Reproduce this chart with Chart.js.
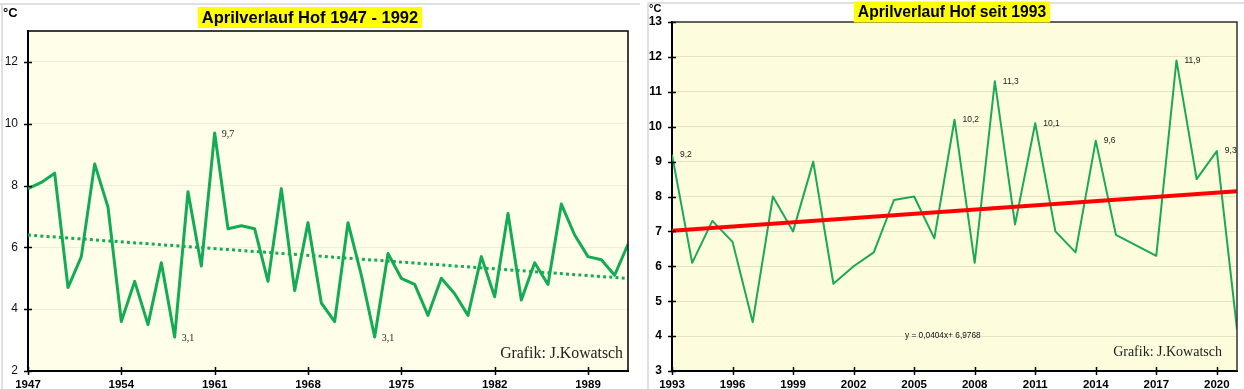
<!DOCTYPE html>
<html><head><meta charset="utf-8">
<script src="https://cdn.jsdelivr.net/npm/chart.js@4/dist/chart.umd.min.js"></script>
<style>
html,body{margin:0;padding:0;background:#fff;width:1244px;height:389px;overflow:hidden}
#c1{position:absolute;left:0;top:0}
#c2{position:absolute;left:640px;top:0}
</style></head><body>
<canvas id="c1" width="640" height="389"></canvas>
<canvas id="c2" width="604" height="389"></canvas>
<script>
// ---------- DATA ----------
const yearsLeft = [1947,1948,1949,1950,1951,1952,1953,1954,1955,1956,1957,1958,1959,1960,1961,1962,1963,1964,1965,1966,1967,1968,1969,1970,1971,1972,1973,1974,1975,1976,1977,1978,1979,1980,1981,1982,1983,1984,1985,1986,1987,1988,1989,1990,1991,1992];
const tempsLeft = [7.9,8.1,8.4,4.7,5.7,8.7,7.3,3.6,4.9,3.5,5.5,3.1,7.8,5.4,9.7,6.6,6.7,6.6,4.9,7.9,4.6,6.8,4.2,3.6,6.8,5.1,3.1,5.8,5.0,4.8,3.8,5.0,4.5,3.8,5.7,4.4,7.1,4.3,5.5,4.8,7.4,6.4,5.7,5.6,5.1,6.1];
const labeledLeft = [1958,1961,1973];
const xTicksLeft = [1947,1954,1961,1968,1975,1982,1989];
const yTicksLeft = [2,4,6,8,10,12];

const yearsRight = [1993,1994,1995,1996,1997,1998,1999,2000,2001,2002,2003,2004,2005,2006,2007,2008,2009,2010,2011,2012,2013,2014,2015,2016,2017,2018,2019,2020,2021];
const tempsRight = [9.2,6.1,7.3,6.7,4.4,8.0,7.0,9.0,5.5,6.0,6.4,7.9,8.0,6.8,10.2,6.1,11.3,7.2,10.1,7.0,6.4,9.6,6.9,6.6,6.3,11.9,8.5,9.3,4.2];
const labeledRight = [1993,2007,2009,2011,2014,2018,2020];
const xTicksRight = [1993,1996,1999,2002,2005,2008,2011,2014,2017,2020];
const yTicksRight = [3,4,5,6,7,8,9,10,11,12,13];
const trendRightSlope = 0.0404;
const trendRightIntercept = 6.9768;

// ---------- helpers ----------
function linReg(ys){
  const n=ys.length; let sx=0,sy=0,sxx=0,sxy=0;
  ys.forEach((y,i)=>{const x=i+1;sx+=x;sy+=y;sxx+=x*x;sxy+=x*y;});
  const m=(n*sxy-sx*sy)/(n*sxx-sx*sx); return {m, b:(sy-m*sx)/n};
}
const regL = linReg(tempsLeft);
const trendLeft = [{x:yearsLeft[0], y:regL.b+regL.m*1},{x:yearsLeft[yearsLeft.length-1], y:regL.b+regL.m*yearsLeft.length}];
const trendRight = [{x:yearsRight[0], y:trendRightIntercept+trendRightSlope*1},{x:yearsRight[yearsRight.length-1], y:trendRightIntercept+trendRightSlope*yearsRight.length}];
const fmt = v => v.toFixed(1).replace('.',',');

const decor = {
  id:'decor',
  beforeDraw(chart,args,o){
    const {ctx,chartArea:a}=chart;
    ctx.save();
    ctx.fillStyle=o.plotBg; ctx.fillRect(a.left,a.top,a.right-a.left,a.bottom-a.top);
    ctx.strokeStyle='#d6d6d6'; ctx.lineWidth=1.5;
    o.frame.forEach(([x1,y1,x2,y2])=>{ctx.beginPath();ctx.moveTo(x1,y1);ctx.lineTo(x2,y2);ctx.stroke();});
    ctx.restore();
  },
  afterDraw(chart,args,o){
    const {ctx,chartArea:a,scales:{x,y}}=chart;
    ctx.save();
    ctx.strokeStyle=o.rightColor; ctx.lineWidth=1.5;
    ctx.beginPath(); ctx.moveTo(a.left,a.top); ctx.lineTo(a.right,a.top); ctx.lineTo(a.right,a.bottom); ctx.stroke();
    ctx.strokeStyle='#000'; ctx.lineWidth=1.5;
    y.ticks.forEach(t=>{const py=Math.round(y.getPixelForValue(t.value))+0.5; ctx.beginPath(); ctx.moveTo(a.left-4,py); ctx.lineTo(a.left+4,py); ctx.stroke();});
    x.ticks.forEach(t=>{const px=Math.round(x.getPixelForValue(t.value))+0.5; ctx.beginPath(); ctx.moveTo(px,a.bottom-4); ctx.lineTo(px,a.bottom+4); ctx.stroke();});
    ctx.font=o.titleFont; ctx.textBaseline='middle'; ctx.textAlign='center';
    const tw=ctx.measureText(o.title).width;
    ctx.fillStyle='#ffff00'; ctx.fillRect(o.titleX-tw/2-4,o.titleY-10.5,tw+8,21);
    ctx.fillStyle='#000'; ctx.fillText(o.title,o.titleX,o.titleY+0.5);
    ctx.font=o.unitFont; ctx.textAlign='left'; ctx.textBaseline='alphabetic';
    ctx.fillText('°C',o.unitX,o.unitY);
    ctx.font=o.creditFont; ctx.textAlign='right';
    ctx.fillStyle='#222'; ctx.fillText('Grafik: J.Kowatsch',o.creditX,o.creditY);
    if(o.equation){ctx.font=o.eqFont; ctx.textAlign='left'; ctx.fillStyle='#111'; ctx.fillText(o.equation,o.eqX,o.eqY);}
    const ds=chart.data.datasets[o.mainIndex].data;
    ctx.font=o.labelFont; ctx.fillStyle='#222'; ctx.textAlign='left'; ctx.textBaseline='middle';
    o.labeled.forEach(yr=>{const p=ds.find(d=>d.x===yr); if(!p)return;
      const px=x.getPixelForValue(p.x), py=y.getPixelForValue(p.y);
      ctx.fillText(fmt(p.y),px+o.labelDX,py+o.labelDY);});
    ctx.restore();
  }
};

function axisW(w){return function(s){s.width=w;};}
function axisH(h){return function(s){s.height=h;};}

// ---------- LEFT CHART ----------
new Chart(document.getElementById('c1'),{
  type:'line',
  data:{datasets:[
    {data:trendLeft, borderColor:'#14ab55', borderWidth:3, borderDash:[3,3.2], borderCapStyle:'butt', pointRadius:0, fill:false},
    {data:yearsLeft.map((yr,i)=>({x:yr,y:tempsLeft[i]})), borderColor:'#14ab55', borderWidth:3, pointRadius:0, tension:0, fill:false, borderJoinStyle:'round'}
  ]},
  options:{
    responsive:false, devicePixelRatio:1, animation:false, events:[],
    layout:{padding:{top:31,right:12,left:0,bottom:0}},
    plugins:{legend:{display:false},tooltip:{enabled:false},
      decor:{plotBg:'#fefee9', frame:[[0,4,640,4],[2,4,2,389]], rightColor:'#000',
        title:'Aprilverlauf Hof 1947 - 1992', titleFont:'bold 16.5px "Liberation Sans", Arial, sans-serif', titleX:310, titleY:17.5,
        unitFont:'bold 13px "Liberation Sans", Arial, sans-serif', unitX:3, unitY:17,
        creditFont:'15.8px "Liberation Serif", "Times New Roman", serif', creditX:623, creditY:358,
        labelFont:'10px "Liberation Serif", serif', labelDX:7, labelDY:1, labeled:labeledLeft, mainIndex:1}},
    scales:{
      x:{type:'linear', min:yearsLeft[0], max:yearsLeft[yearsLeft.length-1],
        afterBuildTicks:s=>{s.ticks=xTicksLeft.map(v=>({value:v}));}, afterFit:axisH(18),
        grid:{display:false, drawTicks:false}, border:{color:'#000',width:2},
        ticks:{padding:7, color:'#000', font:{family:'"Liberation Sans", Arial, sans-serif', size:11.5, weight:'bold'}, maxRotation:0, autoSkip:false, callback:v=>String(v)}},
      y:{type:'linear', min:2, max:13,
        afterBuildTicks:s=>{s.ticks=yTicksLeft.map(v=>({value:v}));}, afterFit:axisW(28),
        grid:{color:'#ededd8', lineWidth:1, drawTicks:false}, border:{color:'#000',width:2},
        ticks:{padding:10, color:'#111', font:{family:'"Liberation Sans", Arial, sans-serif', size:12}, callback:v=>String(v)}}
    }
  },
  plugins:[decor]
});

// ---------- RIGHT CHART ----------
new Chart(document.getElementById('c2'),{
  type:'line',
  data:{datasets:[
    {data:trendRight, borderColor:'#ff0000', borderWidth:4, pointRadius:0, fill:false},
    {data:yearsRight.map((yr,i)=>({x:yr,y:tempsRight[i]})), borderColor:'#1aa85a', borderWidth:2, pointRadius:0, tension:0, fill:false, borderJoinStyle:'round'}
  ]},
  options:{
    responsive:false, devicePixelRatio:1, animation:false, events:[],
    layout:{padding:{top:22,right:7,left:0,bottom:0}},
    plugins:{legend:{display:false},tooltip:{enabled:false},
      decor:{plotBg:'#fdfcdc', frame:[[8,3,604,3],[8,3,8,389]], rightColor:'#333',
        title:'Aprilverlauf Hof seit 1993', titleFont:'bold 15.7px "Liberation Sans", Arial, sans-serif', titleX:312, titleY:12,
        unitFont:'bold 11px "Liberation Sans", Arial, sans-serif', unitX:9, unitY:12,
        creditFont:'14px "Liberation Serif", "Times New Roman", serif', creditX:582, creditY:356,
        equation:'y = 0,0404x+ 6,9768', eqFont:'8.3px "Liberation Sans", Arial, sans-serif', eqX:265, eqY:338,
        labelFont:'8.5px "Liberation Sans", Arial, sans-serif', labelDX:8, labelDY:0, labeled:labeledRight, mainIndex:1}},
    scales:{
      x:{type:'linear', min:yearsRight[0], max:yearsRight[yearsRight.length-1],
        afterBuildTicks:s=>{s.ticks=xTicksRight.map(v=>({value:v}));}, afterFit:axisH(18),
        grid:{display:false, drawTicks:false}, border:{color:'#000',width:2},
        ticks:{padding:7, color:'#000', font:{family:'"Liberation Sans", Arial, sans-serif', size:11.5, weight:'bold'}, maxRotation:0, autoSkip:false, callback:v=>String(v)}},
      y:{type:'linear', min:3, max:13,
        afterBuildTicks:s=>{s.ticks=yTicksRight.map(v=>({value:v}));}, afterFit:axisW(32),
        grid:{color:'#e4e3c8', lineWidth:1, drawTicks:false}, border:{color:'#000',width:2},
        ticks:{padding:10, color:'#000', font:{family:'"Liberation Sans", Arial, sans-serif', size:12, weight:'bold'}, callback:v=>String(v)}}
    }
  },
  plugins:[decor]
});
</script>
</body></html>
